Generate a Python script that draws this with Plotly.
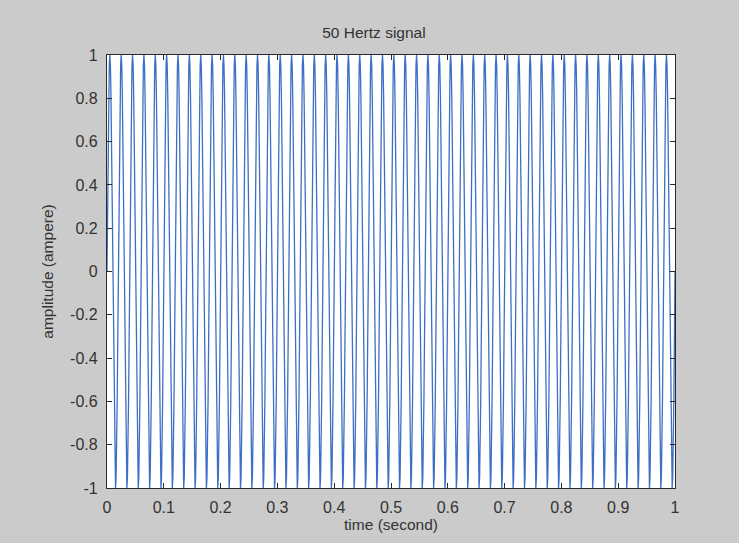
import numpy as np
import plotly.graph_objects as go

# one period of the 50 Hz signal, sampled every 1 ms (20 samples per period)
cycle_values = [0.0, 0.309, 0.588, 0.809, 0.951, 1.0, 0.951, 0.809, 0.588, 0.309,
                0.0, -0.309, -0.588, -0.809, -0.951, -1.0, -0.951, -0.809, -0.588, -0.309]
n_cycles = 50
sample_step = 0.001  # seconds

amplitude = list(np.tile(cycle_values, n_cycles)) + [cycle_values[0]]
time = [i * sample_step for i in range(len(amplitude))]

x_ticks = [0, 0.1, 0.2, 0.3, 0.4, 0.5, 0.6, 0.7, 0.8, 0.9, 1]
x_labels = ["0", "0.1", "0.2", "0.3", "0.4", "0.5", "0.6", "0.7", "0.8", "0.9", "1"]
y_ticks = [-1, -0.8, -0.6, -0.4, -0.2, 0, 0.2, 0.4, 0.6, 0.8, 1]
y_labels = ["-1", "-0.8", "-0.6", "-0.4", "-0.2", "0", "0.2", "0.4", "0.6", "0.8", "1"]

FONT = "Liberation Sans, Arial"
TXT = "#333333"

fig = go.Figure()
fig.add_trace(go.Scatter(x=time, y=amplitude, mode="lines",
                         line=dict(color="#3d6fc6", width=1.3), showlegend=False))

axis_common = dict(showline=True, linecolor="#2a2a2a", linewidth=1.3, mirror="ticks",
                   ticks="inside", ticklen=5, tickcolor="#2a2a2a", showgrid=False,
                   zeroline=False, ticklabelstandoff=5,
                   tickfont=dict(family=FONT, size=16, color=TXT))

fig.update_layout(
    width=739, height=543,
    margin=dict(l=107, r=64, t=55, b=55),
    paper_bgcolor="#cbcbcb",
    plot_bgcolor="#ffffff",
    title=dict(text="50 Hertz signal", xref="paper", x=0.47, xanchor="center",
               yref="container", y=0.94, yanchor="middle",
               font=dict(family=FONT, size=15.5, color=TXT)),
    xaxis=dict(range=[0, 1], tickvals=x_ticks, ticktext=x_labels,
               title=dict(text="time (second)", standoff=3,
                          font=dict(family=FONT, size=15.5, color=TXT)),
               **axis_common),
    yaxis=dict(range=[-1, 1], tickvals=y_ticks, ticktext=y_labels,
               title=dict(text="amplitude (ampere)", standoff=12,
                          font=dict(family=FONT, size=15.5, color=TXT)),
               **axis_common),
)

fig.write_html("out.html")
